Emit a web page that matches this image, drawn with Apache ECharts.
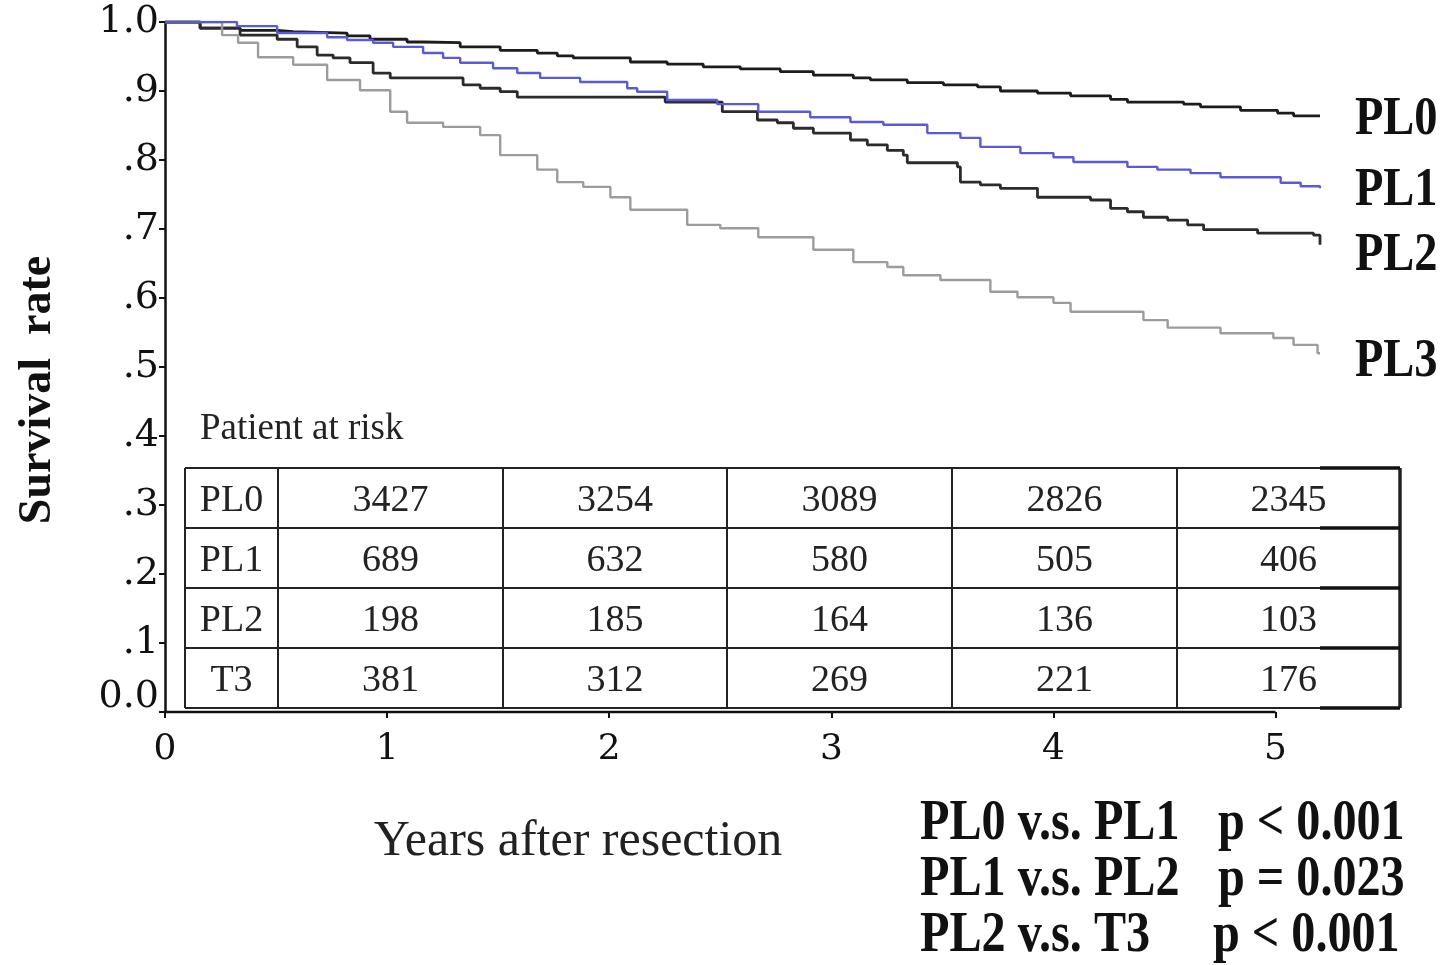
<!DOCTYPE html>
<html>
<head>
<meta charset="utf-8">
<script src="https://cdn.jsdelivr.net/npm/echarts@6/dist/echarts.min.js"></script>
<style>
html,body{margin:0;padding:0;background:#fff;}
#chart{width:1445px;height:965px;}
</style>
</head>
<body>
<div id="chart"></div>
<script>
// ---- data (years after resection, survival rate) ----
const pl0 = [[0,1.0],[0.158,0.991],[0.338,0.988],[0.505,0.986],[0.577,0.984],[0.820,0.980],[0.923,0.975],[1.090,0.971],[1.162,0.970],[1.329,0.964],[1.509,0.959],[1.676,0.955],[1.766,0.951],[1.838,0.948],[2.095,0.942],[2.261,0.939],[2.423,0.935],[2.590,0.932],[2.770,0.928],[2.919,0.923],[3.099,0.919],[3.176,0.916],[3.342,0.912],[3.505,0.909],[3.658,0.906],[3.761,0.900],[3.928,0.897],[4.077,0.893],[4.257,0.888],[4.333,0.884],[4.586,0.881],[4.662,0.877],[4.842,0.872],[5.009,0.868],[5.081,0.864],[5.2,0.864]];
const pl1 = [[0,1.0],[0.324,0.994],[0.505,0.984],[0.730,0.978],[0.820,0.974],[0.937,0.970],[1.027,0.964],[1.162,0.955],[1.252,0.948],[1.329,0.941],[1.477,0.933],[1.586,0.926],[1.689,0.919],[1.869,0.913],[2.081,0.904],[2.126,0.899],[2.261,0.887],[2.486,0.881],[2.671,0.870],[2.905,0.862],[3.086,0.855],[3.234,0.851],[3.432,0.839],[3.581,0.832],[3.671,0.819],[3.851,0.810],[4.0,0.804],[4.090,0.797],[4.333,0.790],[4.468,0.786],[4.617,0.781],[4.752,0.775],[5.023,0.767],[5.113,0.762],[5.2,0.759]];
const pl2 = [[0,1.0],[0.158,0.991],[0.338,0.981],[0.505,0.975],[0.595,0.964],[0.685,0.952],[0.757,0.948],[0.833,0.941],[0.937,0.926],[1.014,0.919],[1.342,0.909],[1.419,0.904],[1.509,0.899],[1.586,0.891],[2.252,0.884],[2.509,0.870],[2.667,0.858],[2.757,0.854],[2.829,0.846],[2.919,0.839],[3.086,0.829],[3.162,0.822],[3.252,0.814],[3.324,0.807],[3.342,0.796],[3.568,0.790],[3.581,0.768],[3.671,0.764],[3.761,0.759],[3.928,0.746],[4.167,0.742],[4.257,0.730],[4.333,0.725],[4.405,0.717],[4.514,0.713],[4.604,0.706],[4.676,0.699],[4.919,0.694],[5.171,0.691],[5.2,0.677]];
const pl3 = [[0,1.0],[0.257,0.981],[0.329,0.970],[0.419,0.949],[0.577,0.938],[0.730,0.916],[0.878,0.901],[1.014,0.870],[1.090,0.854],[1.252,0.848],[1.419,0.836],[1.509,0.807],[1.676,0.786],[1.766,0.768],[1.883,0.761],[2.005,0.746],[2.095,0.728],[2.351,0.706],[2.500,0.701],[2.671,0.688],[2.919,0.670],[3.099,0.652],[3.252,0.645],[3.324,0.633],[3.491,0.626],[3.716,0.609],[3.838,0.601],[4.000,0.593],[4.077,0.580],[4.405,0.568],[4.514,0.557],[4.752,0.549],[4.990,0.542],[5.081,0.532],[5.189,0.520],[5.2,0.520]];

const seriesNames = ['PL0','PL1','PL2','PL3'];
const riskGroups = ['PL0','PL1','PL2','T3'];
const riskPL0 = [3427,3254,3089,2826,2345];
const riskPL1 = [689,632,580,505,406];
const riskPL2 = [198,185,164,136,103];
const riskT3  = [381,312,269,221,176];
const xTicks = [0,1,2,3,4,5];
const yTickLabels = ['0.0','.1','.2','.3','.4','.5','.6','.7','.8','.9','1.0'];
const pTests = ['PL0 v.s. PL1','PL1 v.s. PL2','PL2 v.s. T3'];
const pValues = ['p < 0.001','p = 0.023','p < 0.001'];

// ---- chart ----
const chart = echarts.init(document.getElementById('chart'), null, {renderer:'canvas'});
const serif = '"Liberation Serif","Times New Roman",serif';
const wideSerif = '"DejaVu Serif","Liberation Serif",serif';
const colors = ['#1c1c1c','#5a5ad6','#2b2b2b','#9c9c9c'];
const widths = [2.8,2.4,2.8,2.4];
const curves = [pl0,pl1,pl2,pl3];

const option = {
  backgroundColor:'#ffffff',
  animation:false,
  grid:{left:165,right:125,top:22,bottom:253,containLabel:false},
  xAxis:{
    type:'value',min:0,max:5.2,
    axisLine:{show:false},
    splitLine:{show:false},
    axisTick:{show:true,length:6,inside:false,customValues:xTicks,lineStyle:{color:'#111',width:2}},
    axisLabel:{show:true,customValues:xTicks,margin:20,fontFamily:wideSerif,fontSize:36,color:'#111',formatter:v=>String(v)}
  },
  yAxis:{
    type:'value',min:0,max:1,interval:0.1,
    axisLine:{show:true,lineStyle:{color:'#111',width:2.5}},
    splitLine:{show:false},
    axisTick:{show:true,length:6,lineStyle:{color:'#111',width:2}},
    axisLabel:{margin:6,fontFamily:wideSerif,fontSize:38,color:'#111',
      formatter:function(v){const i=Math.round(v*10);return i===0?'{z|'+yTickLabels[0]+'}':yTickLabels[i];},
      rich:{z:{fontFamily:wideSerif,fontSize:38,color:'#111',padding:[0,0,30,0]}}}
  },
  series: curves.map((d,i)=>({
    name:seriesNames[i],type:'line',step:'end',data:d,showSymbol:false,symbol:'none',
    lineStyle:{color:colors[i],width:widths[i]},z:3+(i===1?1:0)
  }))
};
chart.setOption(option);

// ---- annotations (table, labels) ----
const g = [];
const p0 = chart.convertToPixel({gridIndex:0},[0,0]);
const p5 = chart.convertToPixel({gridIndex:0},[5,0]);
g.push({type:'line',shape:{x1:p0[0]-1,y1:p0[1],x2:p5[0],y2:p5[1]},style:{stroke:'#111',lineWidth:2.5},z:10});

// table
const tL=185, tR=1400, tT=468, rowH=60, thickStart=1320;
const colX=[185,278,503,727,952,1177,1400];
const rowsY=[tT,tT+rowH,tT+2*rowH,tT+3*rowH,tT+4*rowH];
rowsY.forEach(y=>{
  g.push({type:'line',shape:{x1:tL,y1:y,x2:tR,y2:y},style:{stroke:'#222',lineWidth:2},z:10});
  g.push({type:'line',shape:{x1:thickStart,y1:y,x2:tR,y2:y},style:{stroke:'#111',lineWidth:3.5},z:11});
});
colX.forEach((x,k)=>{
  g.push({type:'line',shape:{x1:x,y1:tT,x2:x,y2:rowsY[4]},style:{stroke:'#222',lineWidth:k===colX.length-1?3.5:2},z:10});
});
const riskRows=[riskPL0,riskPL1,riskPL2,riskT3];
riskGroups.forEach((name,r)=>{
  const cy = tT + rowH*r + rowH/2 + 3;
  g.push({type:'text',x:(colX[0]+colX[1])/2,y:cy,style:{text:name,font:'38px '+serif,fill:'#222',align:'center',verticalAlign:'middle'},z:12});
  riskRows[r].forEach((v,c)=>{
    g.push({type:'text',x:(colX[c+1]+colX[c+2])/2,y:cy,style:{text:String(v),font:'38px '+serif,fill:'#222',align:'center',verticalAlign:'middle'},z:12});
  });
});
g.push({type:'text',x:200,y:429,style:{text:'Patient at risk',font:'37px '+serif,fill:'#222',align:'left',verticalAlign:'middle'},z:12});

// curve labels at right
const labY=[120,191,256,362];
seriesNames.forEach((n,i)=>{
  g.push({type:'text',x:1355,y:labY[i],scaleX:0.86,style:{text:n,font:'bold 54px '+serif,fill:'#111',align:'left',verticalAlign:'middle'},z:12});
});

// axis titles
g.push({type:'text',x:578,y:842,style:{text:'Years after resection',font:'50px '+serif,fill:'#222',align:'center',verticalAlign:'middle'},z:12});
g.push({type:'text',x:38,y:390,rotation:Math.PI/2,style:{text:'Survival  rate',font:'bold 46px '+serif,fill:'#111',align:'center',verticalAlign:'middle'},z:12});

// p-values
const pY=[825,881,937];
pTests.forEach((t,i)=>{
  g.push({type:'text',x:920,y:pY[i],scaleX:0.86,style:{text:t,font:'bold 56px '+serif,fill:'#111',align:'left',verticalAlign:'middle'},z:12});
  g.push({type:'text',x:i===2?1213:1218,y:pY[i],scaleX:0.86,style:{text:pValues[i],font:'bold 56px '+serif,fill:'#111',align:'left',verticalAlign:'middle'},z:12});
});

chart.setOption({graphic:{elements:g}});
</script>
</body>
</html>
